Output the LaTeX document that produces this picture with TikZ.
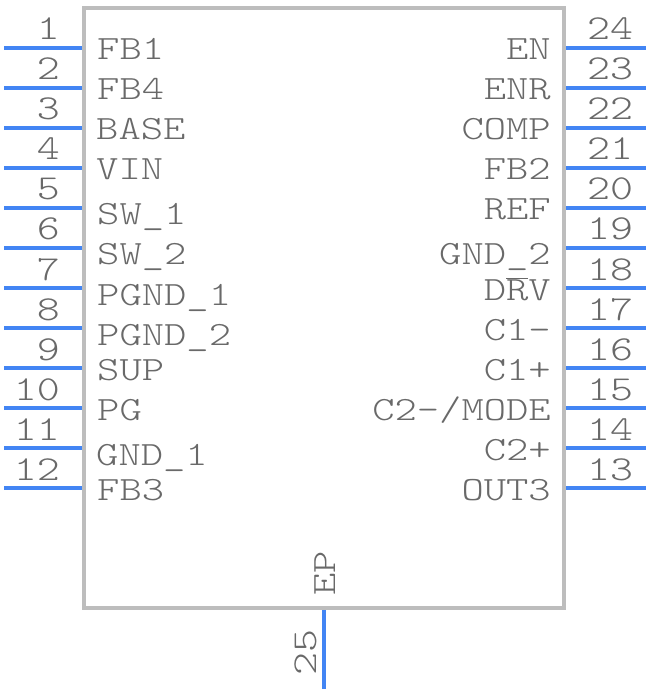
\documentclass[tikz,border=0pt]{standalone}
\usepackage{fontspec}
\setmainfont[FakeStretch=1.25]{Latin Modern Mono Light}
\definecolor{pinblue}{RGB}{66, 133, 244}
\definecolor{bodygray}{RGB}{189, 189, 189}
\definecolor{textgray}{RGB}{105, 105, 105}
\tikzset{
  pinline/.style={pinblue, line width=4pt},
  bodyline/.style={draw=bodygray, line width=4pt},
  pinnum/.style={font=\fontsize{35}{35}\selectfont, text=textgray, inner sep=0pt},
  pinname/.style={font=\fontsize{34}{34}\selectfont, text=textgray, inner sep=0pt}
}
\begin{document}
\begin{tikzpicture}[x=1pt, y=-1pt]
  \useasboundingbox (0, 0) rectangle (648, 692);

  % Package body
  \node[bodyline, minimum width=480pt, minimum height=599pt, inner sep=0pt] (chip) at (324, 308) {};

  % Left pins
  \foreach \n in {1, ..., 12} {
    \coordinate (lout\n) at (4, 8 + 40*\n);
    \coordinate (lin\n) at (82, 8 + 40*\n);
    \draw[pinline] (lout\n) -- (lin\n);
    \node[pinnum, anchor=base east] (lnum\n) at (60, 40*\n) {\n};
  }

  % Right pins
  \foreach \n [evaluate=\n as \k using int(25-\n)] in {13, ..., 24} {
    \coordinate (rin\n) at (566, 8 + 40*\k);
    \coordinate (rout\n) at (646, 8 + 40*\k);
    \draw[pinline] (rin\n) -- (rout\n);
    \node[pinnum, anchor=base west] (rnum\n) at (587, 40*\k) {\n};
  }

  % Exposed pad
  \coordinate (epin) at (324, 610);
  \coordinate (epout) at (324, 689);
  \draw[pinline] (epin) -- (epout);
  \node[pinnum, rotate=90, anchor=base west] (epnum) at (316, 676) {25};
  \node[pinname, rotate=90, anchor=base west] (epname) at (335, 596) {EP};

  % Left names
  \foreach \y/\name/\x in {60/FB1/97, 100/FB4/97, 140/BASE/96, 180/VIN/96, 225/SW\_1/97, 265/SW\_2/97, 305/PGND\_1/97, 345/PGND\_2/97, 380/SUP/97, 420/PG/97, 465/GND\_1/96, 500/FB3/97}
    \node[pinname, anchor=base west] at (\x, \y) {\name};

  % Right names
  \foreach \y/\name in {60/EN, 100/ENR, 140/COMP, 180/FB2, 220/REF, 265/GND\_2, 300/D$\overline{\hbox{R}}$V, 340/C1-, 380/C1+, 420/C2-{/}MODE, 460/C2+, 500/OUT3}
    \node[pinname, anchor=base east] at (551, \y) {\name};
\end{tikzpicture}
\end{document}
